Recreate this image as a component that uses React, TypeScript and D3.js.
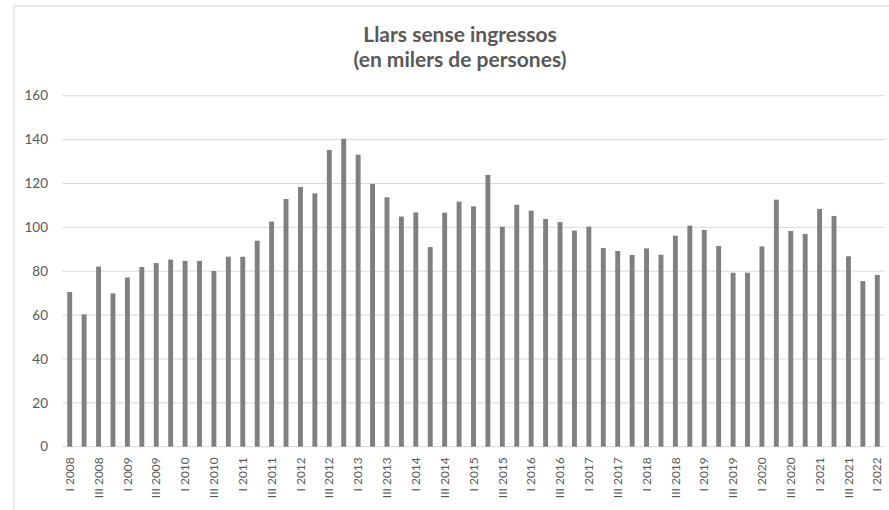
import React from "react";
import * as d3 from "d3";

const years = d3.range(2008, 2023);
const quarterNames = ["I", "II", "III", "IV"];
const categories: string[] = [];
years.forEach((y) => quarterNames.forEach((q) => categories.push(`${q} ${y}`)));
const quarters = categories.slice(0, 57);

const values = [
  70.5, 60.3, 82.1, 69.9, 77.1, 81.9, 83.7, 85.3, 84.7, 84.7, 80.1, 86.6, 86.6, 93.9,
  102.6, 112.9, 118.4, 115.5, 135.3, 140.4, 133.1, 119.8, 113.7, 104.9, 106.8, 91.0,
  106.7, 111.7, 109.6, 123.9, 100.3, 110.3, 107.6, 103.8, 102.4, 98.5, 100.3, 90.6,
  89.2, 87.4, 90.4, 87.5, 96.2, 100.8, 98.8, 91.5, 79.3, 79.3, 91.3, 112.6, 98.3, 97.0,
  108.4, 105.2, 86.8, 75.5, 78.3,
];
const yTicks = [0, 20, 40, 60, 80, 100, 120, 140, 160];
const titleLines = ["Llars sense ingressos", "(en milers de persones)"];

const W = 889;
const H = 510;
const plot = { left: 62.5, right: 884.5, top: 95.7, bottom: 446.7 };
const font = "Lato, 'Open Sans', sans-serif";
const textColor = "#595959";

export default function App() {
  const x = d3.scaleBand<string>().domain(quarters).range([plot.left, plot.right]).paddingInner(0.66).paddingOuter(0.33);
  const y = d3.scaleLinear().domain([0, 160]).range([plot.bottom, plot.top]);
  const bw = x.bandwidth();
  return (
    <svg width={W} height={H} style={{ position: "absolute", left: 0, top: 0, background: "#fff" }}>
      <rect x={14} y={6} width={W} height={H} fill="#fff" stroke="#d9d9d9" strokeWidth={1.2} />
      <g fontFamily={font} fontWeight="bold" fontSize={21} fill={textColor} textAnchor="middle">
        {titleLines.map((t, i) => (
          <text key={t} x={460} y={41.5 + i * 25.5}>{t}</text>
        ))}
      </g>
      <g>
        {yTicks.map((t) => (
          <g key={t}>
            <line x1={plot.left} x2={plot.right} y1={y(t)} y2={y(t)} stroke="#d9d9d9" strokeWidth={1} />
            <text x={48} y={y(t)} dy="0.35em" textAnchor="end" fontFamily={font} fontSize={13.5} fill={textColor}>{t}</text>
          </g>
        ))}
      </g>
      <g fill="#808080">
        {values.map((v, i) => (
          <rect key={i} x={x(quarters[i])!} y={y(v)} width={bw} height={y(0) - y(v)} />
        ))}
      </g>
      <g fontFamily={font} fontSize={12} fill={textColor}>
        {quarters.map((q, i) =>
          i % 2 === 0 ? (
            <text key={q} transform={`translate(${x(q)! + bw / 2},${plot.bottom + 10.5}) rotate(-90)`} textAnchor="end" dy="0.35em">{q}</text>
          ) : null
        )}
      </g>
    </svg>
  );
}
